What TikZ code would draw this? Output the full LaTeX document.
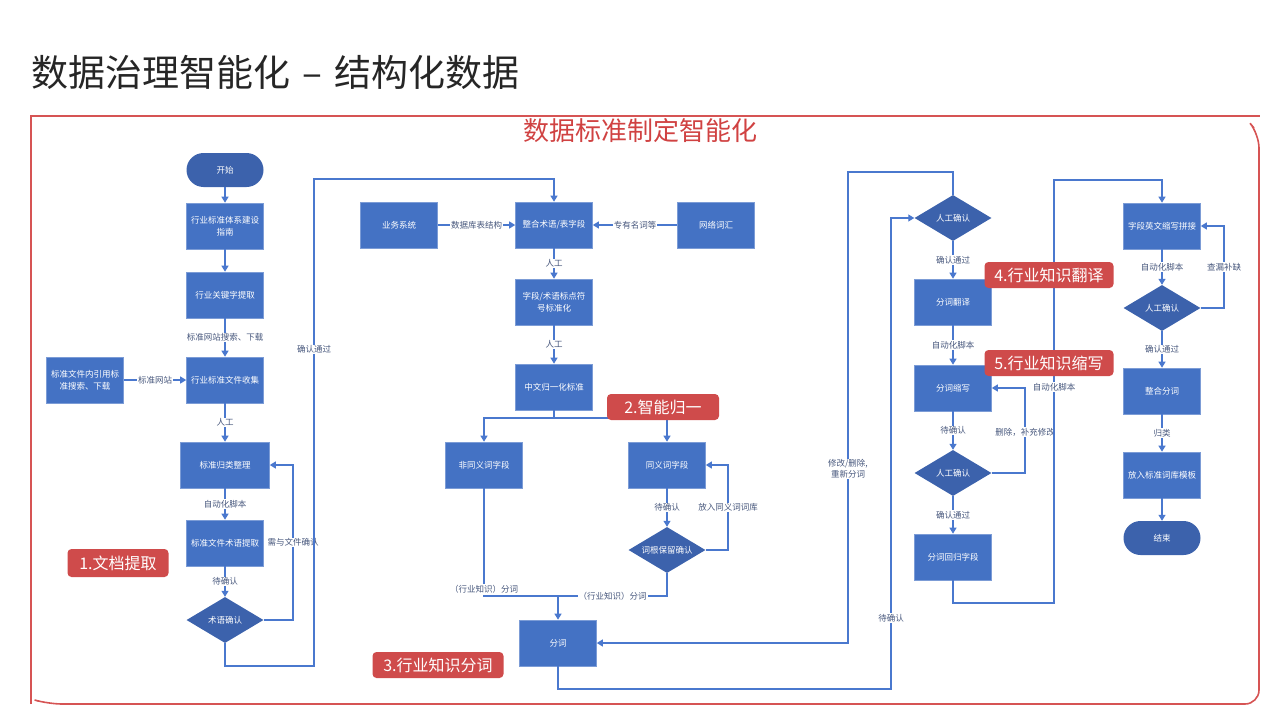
\documentclass[tikz,border=0pt]{standalone}
\usepackage{fontspec}
\setmainfont{Noto Sans CJK SC}
\usepackage{tikz}
\usetikzlibrary{arrows.meta, shapes.geometric}
\usepackage{xcolor}

\definecolor{boxblue}{RGB}{68,114,196}
\definecolor{darkblue}{RGB}{60,98,172}
\definecolor{lineblue}{RGB}{74,120,206}
\definecolor{labelgray}{RGB}{72,88,125}
\definecolor{tagred}{RGB}{207,75,75}
\definecolor{framered}{RGB}{214,84,84}
\definecolor{subred}{RGB}{208,66,66}
\definecolor{titlegray}{RGB}{38,38,38}

\tikzset{
  box/.style={rectangle, fill=boxblue, draw=boxblue!70!white, line width=0.6pt, text=white,
    font=\fontsize{8.5}{12}\selectfont, align=center, minimum width=77pt, minimum height=46pt, inner sep=2pt},
  check/.style={diamond, fill=darkblue, text=white, font=\fontsize{8.5}{12}\selectfont,
    aspect=1.67, minimum width=77pt, minimum height=46pt, inner sep=0pt},
  terminal/.style={rectangle, rounded corners=17pt, fill=darkblue, text=white,
    font=\fontsize{8.5}{12}\selectfont, minimum width=77pt, minimum height=34pt},
  link/.style={draw=lineblue, line width=1.2pt},
  flow/.style={link, -{Triangle[width=7pt,length=6pt]}},
  lbl/.style={fill=white, text=labelgray, font=\fontsize{8.5}{10.5}\selectfont, inner sep=1pt, align=center},
  tag/.style={fill=tagred, rounded corners=4pt, text=white, font=\fontsize{16}{18}\selectfont,
    minimum height=26pt, inner sep=2pt},
  frame/.style={draw=framered, line width=1.6pt},
}

\begin{document}
\begin{tikzpicture}[x=1pt,y=-1pt]
  \useasboundingbox (0,0) rectangle (1280,720);

  % title and frame
  \node[anchor=west, inner sep=0pt, text=titlegray, font=\fontsize{37}{40}\selectfont] (title) at (31,72) {数据治理智能化\hspace{12pt}–\hspace{12pt}结构化数据};
  \node[text=subred, font=\fontsize{26}{30}\selectfont, inner sep=0pt] (subtitle) at (640,131) {数据标准制定智能化};
  \draw[frame] (31,704) -- (31,116) -- (1260,116);
  \draw[frame, rounded corners=14pt] (38,701) -- (48,704) -- (1259,704) -- (1259,134) -- (1254,128);

  % document extraction
  \node[terminal] (start) at (225,170) {开始};
  \node[box] (guide) at (225,226) {行业标准体系建设\\指南};
  \node[box] (keyword) at (225,295) {行业关键字提取};
  \node[box] (collect) at (225,380) {行业标准文件收集};
  \node[box] (cite) at (85,380) {标准文件内引用标\\准搜索、下载};
  \node[box, minimum width=89pt] (classify) at (225,465) {标准归类整理};
  \node[box] (extract) at (225,543) {标准文件术语提取};
  \node[check] (termchk) at (225,620) {术语确认};

  % normalisation
  \node[box] (biz) at (399,225) {业务系统};
  \node[box] (merge) at (554,225) {整合术语/表字段};
  \node[box] (web) at (716,225) {网络词汇};
  \node[box] (punct) at (554,302) {字段/术语标点符\\号标准化};
  \node[box] (norm) at (554,387) {中文归一化标准};
  \node[box] (nonsyn) at (484,465) {非同义词字段};
  \node[box] (syn) at (667,465) {同义词字段};
  \node[check] (rootchk) at (667,550) {词根保留确认};
  \node[box] (seg) at (558,643) {分词};

  % translation and abbreviation
  \node[check] (chk1) at (953,218) {人工确认};
  \node[box] (trans) at (953,302) {分词翻译};
  \node[box] (abbr) at (953,388) {分词缩写};
  \node[check] (chk2) at (953,473) {人工确认};
  \node[box] (back) at (953,557) {分词回归字段};

  % field names
  \node[box] (concat) at (1162,226) {字段英文缩写拼接};
  \node[check] (chk3) at (1162,308) {人工确认};
  \node[box] (merge2) at (1162,391) {整合分词};
  \node[box] (tpl) at (1162,475) {放入标准词库模板};
  \node[terminal] (finish) at (1162,538) {结束};

  % bends
  \coordinate (loop1) at (293,620);
  \coordinate (up1a) at (314,666);
  \coordinate (up1b) at (314,179);
  \coordinate (split) at (554,418);
  \coordinate (loop2) at (728,550);
  \coordinate (join) at (558,596);
  \coordinate (low) at (891,689);
  \coordinate (low2) at (891,218);
  \coordinate (redo) at (848,172);
  \coordinate (redo2) at (848,643);
  \coordinate (loop3) at (1025,473);
  \coordinate (up2a) at (1054,603);
  \coordinate (up2b) at (1054,180);
  \coordinate (loop4) at (1224,308);

  % connectors
  \draw[flow] (start) -- (guide);
  \draw[flow] (guide) -- (keyword);
  \draw[flow] (keyword) -- node[lbl] {标准网站搜索、下载} (collect);
  \draw[flow] (cite) -- node[lbl] {标准网站} (collect);
  \draw[flow] (collect) -- node[lbl] {人工} (classify);
  \draw[flow] (classify) -- node[lbl] {自动化脚本} (extract);
  \draw[flow] (extract) -- node[lbl] {待确认} (termchk);
  \draw[flow] (termchk.east) -- (loop1) |- node[lbl, pos=0.25] {需与文件确认} (classify.east);
  \draw[flow] (termchk.south) |- (up1a) -- node[lbl, pos=0.65] {确认通过} (up1b) -| (merge.north);

  \draw[flow] (biz) -- node[lbl] {数据库表结构} (merge);
  \draw[flow] (web) -- node[lbl] {专有名词等} (merge);
  \draw[flow] (merge) -- node[lbl] {人工} (punct);
  \draw[flow] (punct) -- node[lbl] {人工} (norm);
  \draw[link] (norm.south) -- (split);
  \draw[flow] (split) -| (nonsyn.north);
  \draw[flow] (split) -| (syn.north);
  \draw[flow] (syn) -- node[lbl] {待确认} (rootchk);
  \draw[flow] (rootchk.east) -- (loop2) |- node[lbl, pos=0.25] {放入同义词词库} (syn.east);
  \draw[link] (nonsyn.south) |- node[lbl, pos=0.47] {（行业知识）分词} (join);
  \draw[link] (rootchk.south) |- node[lbl, pos=0.75] {（行业知识）分词} (join);
  \draw[flow] (join) -- (seg.north);

  \draw[flow] (seg.south) |- (low) -- node[lbl, pos=0.15] {待确认} (low2) -- (chk1.west);
  \draw[flow] (chk1.north) |- (redo) -- node[lbl, pos=0.63] {修改/删除,\\重新分词} (redo2) -- (seg.east);
  \draw[flow] (chk1) -- node[lbl] {确认通过} (trans);
  \draw[flow] (trans) -- node[lbl] {自动化脚本} (abbr);
  \draw[flow] (abbr) -- node[lbl] {待确认} (chk2);
  \draw[flow] (chk2.east) -- (loop3) |- node[lbl, pos=0.24] {删除，补充修改} (abbr.east);
  \draw[flow] (chk2) -- node[lbl] {确认通过} (back);
  \draw[flow] (back.south) |- (up2a) -- node[lbl, pos=0.51] {自动化脚本} (up2b) -| (concat.north);

  \draw[flow] (concat) -- node[lbl] {自动化脚本} (chk3);
  \draw[flow] (chk3.east) -- (loop4) |- node[lbl, pos=0.25] {查漏补缺} (concat.east);
  \draw[flow] (chk3) -- node[lbl] {确认通过} (merge2);
  \draw[flow] (merge2) -- node[lbl] {归类} (tpl);
  \draw[flow] (tpl) -- (finish);

  % step tags
  \node[tag, minimum width=101pt, minimum height=28pt] (tag1) at (118,563) {1.文档提取};
  \node[tag, minimum width=112pt] (tag2) at (663,407) {2.智能归一};
  \node[tag, minimum width=131pt] (tag3) at (438,665) {3.行业知识分词};
  \node[tag, minimum width=129pt] (tag4) at (1049,275) {4.行业知识翻译};
  \node[tag, minimum width=129pt] (tag5) at (1049,363) {5.行业知识缩写};
\end{tikzpicture}
\end{document}
